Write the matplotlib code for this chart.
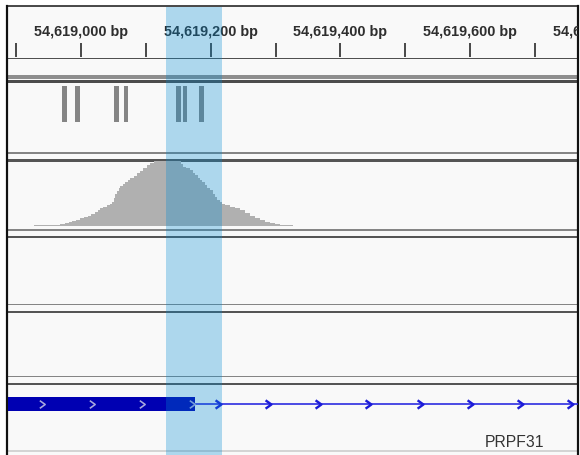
import matplotlib

matplotlib.use("Agg")
import matplotlib.pyplot as plt
from matplotlib.path import Path

plt.rcParams["font.family"] = ["Liberation Sans", "DejaVu Sans"]

W, H = 580, 456
DPI = 100
PX = 72.0 / DPI  # one pixel in points

# visible locus (chr19)
view_start = 54618887.4
view_end = 54619766.3

ruler_ticks = [54618900, 54619000, 54619100, 54619200, 54619300,
               54619400, 54619500, 54619600, 54619700]
ruler_labels = [54619000, 54619200, 54619400, 54619600, 54619800]

# feature track (short marks)
feature_starts = [54618971, 54618991, 54619051, 54619066, 54619147, 54619157, 54619182]
feature_ends = [54618978, 54618998, 54619058, 54619073, 54619154, 54619164, 54619189]

# read coverage
coverage_pos = [54618927, 54618967, 54618975, 54618981, 54618986, 54618992, 54618998,
                54619004, 54619011, 54619016, 54619022, 54619026, 54619029, 54619034,
                54619040, 54619044, 54619048, 54619051, 54619053, 54619055, 54619058,
                54619060, 54619064, 54619068, 54619072, 54619076, 54619081, 54619086,
                54619091, 54619096, 54619101, 54619106, 54619112, 54619125, 54619140,
                54619150, 54619154, 54619157, 54619162, 54619168, 54619172, 54619176,
                54619180, 54619183, 54619187, 54619191, 54619195, 54619199, 54619203,
                54619207, 54619210, 54619214, 54619218, 54619222, 54619230, 54619237,
                54619245, 54619253, 54619260, 54619268, 54619276, 54619284, 54619291,
                54619299, 54619307, 54619315, 54619327]
coverage_depth = [0.5, 1, 1.5, 2, 2.5, 3, 4,
                  4.5, 5, 6, 7, 8, 9, 9.5,
                  10.5, 11, 12, 14, 16, 17.5, 19,
                  20, 21, 22, 23, 24, 25, 26.5,
                  27.5, 29, 30.5, 31.5, 33, 35, 34,
                  33, 31, 29.5, 29, 28, 26.5, 25.5,
                  24, 23, 22, 20.5, 19, 18, 16,
                  14.5, 13, 12, 11, 10.5, 9.5, 9,
                  8, 6.5, 5, 4, 3, 2, 1.5,
                  1, 0.7, 0.5, 0]
coverage_max = 32.5

# region of interest
roi_start, roi_end = 54619131, 54619217

# gene model
gene_name = "PRPF31"
exon_start, exon_end = 54618700, 54619176
intron_end = 54620500
exon_arrows = [54618940, 54619017, 54619094, 54619171]
intron_arrows = [54619211, 54619288, 54619365, 54619442, 54619523,
                 54619600, 54619677, 54619754]
gene_label_pos = 54619669


def px_axes(fig, top, bottom, left=8, right=578):
    ax = fig.add_axes([left / W, 1 - bottom / H, (right - left) / W, (bottom - top) / H])
    ax.set_xlim(view_start, view_end)
    ax.set_axis_off()
    return ax


fig = plt.figure(figsize=(W / DPI, H / DPI), dpi=DPI)
fig.patch.set_facecolor("white")

# panel background, frame and track separators (y in pixels from the top)
bg = fig.add_axes([7 / W, 0, 571 / W, 1 - 7 / H])
bg.set_xlim(0, 1)
bg.set_ylim(H, 7)
bg.set_facecolor("#f9f9f9")
bg.set_xticks([])
bg.set_yticks([])
bg.spines["bottom"].set_visible(False)
bg.spines["left"].set_linewidth(2.2 * PX)
bg.spines["right"].set_linewidth(2.2 * PX)
bg.spines["top"].set_linewidth(1.5 * PX)
for s in bg.spines.values():
    s.set_color("#111111")

separators = [
    (59.5, 1.6, "#505050"),
    (78.0, 4.0, "#8e8e8e"),
    (82.7, 2.6, "#4c4c4c"),
    (154.0, 1.8, "#858585"),
    (161.5, 2.8, "#555555"),
    (231.0, 1.8, "#858585"),
    (238.0, 2.8, "#555555"),
    (305.5, 1.8, "#858585"),
    (313.0, 2.8, "#555555"),
    (377.5, 1.8, "#858585"),
    (385.0, 2.8, "#555555"),
    (452.0, 1.6, "#d4d4d4"),
]
for y, h, c in separators:
    bg.axhspan(y - h / 2, y + h / 2, xmin=0.002, xmax=0.998, color=c, lw=0)

# ruler
ruler = px_axes(fig, 7, 60)
ruler.set_ylim(53, 0)
ruler.vlines(ruler_ticks, 37, 51, color="#222222", lw=1.6 * PX)
for pos in ruler_labels:
    ruler.text(pos, 28.7, f"{pos:,} bp", ha="center", va="baseline",
               fontsize=10.4, fontweight="bold", color="#2e2e2e", clip_on=True)

# feature marks
feat = px_axes(fig, 85, 154)
feat.set_ylim(69, 0)
feat.bar(feature_starts, 36, width=[e - s for s, e in zip(feature_starts, feature_ends)],
         bottom=2, align="edge", color="#858585", lw=0)

# coverage
cov = px_axes(fig, 162, 227)
cov.set_ylim(0, coverage_max)
cov.fill_between(coverage_pos, coverage_depth, step="post", color="#b0b0b0", lw=0)

# gene track
gene = px_axes(fig, 386, 452)
gene.set_ylim(66, 0)
gene.hlines(19, exon_end, intron_end, color="#2424e0", lw=1.6 * PX)
gene.barh(19, exon_end - exon_start, left=exon_start, height=14, color="#0000b2", lw=0)
chevron = Path([(-0.35, 0.5), (0.35, 0.0), (-0.35, -0.5)],
               [Path.MOVETO, Path.LINETO, Path.LINETO])
gene.plot(exon_arrows, [19] * len(exon_arrows), ls="none", marker=chevron, ms=5.5,
          mfc="none", mec="#a9a9de", mew=1.6 * PX)
gene.plot(intron_arrows, [19] * len(intron_arrows), ls="none", marker=chevron, ms=6,
          mfc="none", mec="#1c1cd8", mew=2.4 * PX)
gene.text(gene_label_pos, 60.7, gene_name, ha="center", va="baseline",
          fontsize=11.3, color="#333333")

# region-of-interest overlay on top of every track
roi = px_axes(fig, 8, H)
roi.axvspan(roi_start, roi_end, color="#0089d2", alpha=0.3, lw=0)

fig.savefig("out.png", dpi=DPI)
